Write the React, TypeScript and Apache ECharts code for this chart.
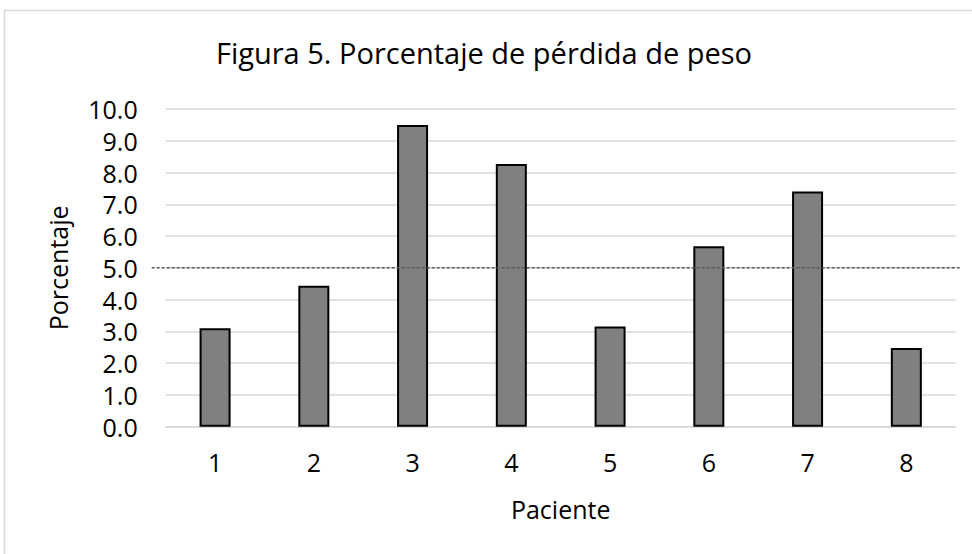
import React, { useEffect, useRef } from "react";
import * as echarts from "echarts";

const categories = ["1", "2", "3", "4", "5", "6", "7", "8"];
const values = [3.1, 4.44, 9.5, 8.27, 3.15, 5.68, 7.4, 2.48];
const referenceLevel = 5;
const yTicks = { min: 0, max: 10, interval: 1 };

const FONT = "'Open Sans', 'Noto Sans', sans-serif";

export default function App() {
  const ref = useRef<HTMLDivElement>(null);
  useEffect(() => {
    if (!ref.current) return;
    const chart = echarts.init(ref.current, null, { renderer: "svg" });
    chart.setOption({
      animation: false,
      backgroundColor: "#ffffff",
      textStyle: { fontFamily: FONT },
      title: {
        text: "Figura 5. Porcentaje de pérdida de peso",
        left: 479,
        top: 33,
        textAlign: "center",
        textStyle: { fontFamily: FONT, fontSize: 29, fontWeight: "normal", color: "#000000" },
      },
      graphic: [
        {
          type: "rect",
          shape: { x: 4.5, y: 10.5, width: 1000, height: 600 },
          style: { fill: "none", stroke: "#d9d9d9", lineWidth: 1.5 },
          silent: true,
        },
      ],
      grid: [
        { left: 165.7, right: 16.3, top: 109, bottom: 127.3 },
        { left: 151.7, right: 10.3, top: 109, bottom: 127.3 },
      ],
      xAxis: [
        {
          type: "category",
          gridIndex: 0,
          data: categories,
          name: "Paciente",
          nameLocation: "middle",
          nameGap: 70,
          nameTextStyle: { fontFamily: FONT, fontSize: 25, color: "#000000" },
          axisLine: { lineStyle: { color: "#d9d9d9", width: 1.5 } },
          axisTick: { show: false },
          axisLabel: { fontFamily: FONT, fontSize: 25, color: "#000000", margin: 23 },
        },
        { type: "value", gridIndex: 1, min: 0, max: 1, show: false },
      ],
      yAxis: [
        {
          type: "value",
          gridIndex: 0,
          min: yTicks.min,
          max: yTicks.max,
          interval: yTicks.interval,
          name: "Porcentaje",
          nameLocation: "middle",
          nameGap: 95,
          nameTextStyle: { fontFamily: FONT, fontSize: 25, color: "#000000" },
          axisLine: { show: false },
          axisTick: { show: false },
          axisLabel: {
            fontFamily: FONT,
            fontSize: 25,
            color: "#000000",
            margin: 28,
            formatter: (v: number) => v.toFixed(1),
          },
          splitLine: { lineStyle: { color: "#d9d9d9", width: 1.5 } },
        },
        { type: "value", gridIndex: 1, min: yTicks.min, max: yTicks.max, show: false },
      ],
      series: [
        {
          type: "bar",
          xAxisIndex: 0,
          yAxisIndex: 0,
          data: values,
          barWidth: 31,
          itemStyle: { color: "#808080", borderColor: "#000000", borderWidth: 2 },
          z: 3,
        },
        {
          type: "line",
          xAxisIndex: 1,
          yAxisIndex: 1,
          data: [
            [0, referenceLevel],
            [1, referenceLevel],
          ],
          symbol: "none",
          lineStyle: { color: "#595959", width: 1.5, type: [3, 2] },
          z: 4,
        },
      ],
    });
    return () => chart.dispose();
  }, []);
  return (
    <div
      ref={ref}
      style={{ position: "fixed", left: 0, top: 0, width: 972, height: 554 }}
    />
  );
}
